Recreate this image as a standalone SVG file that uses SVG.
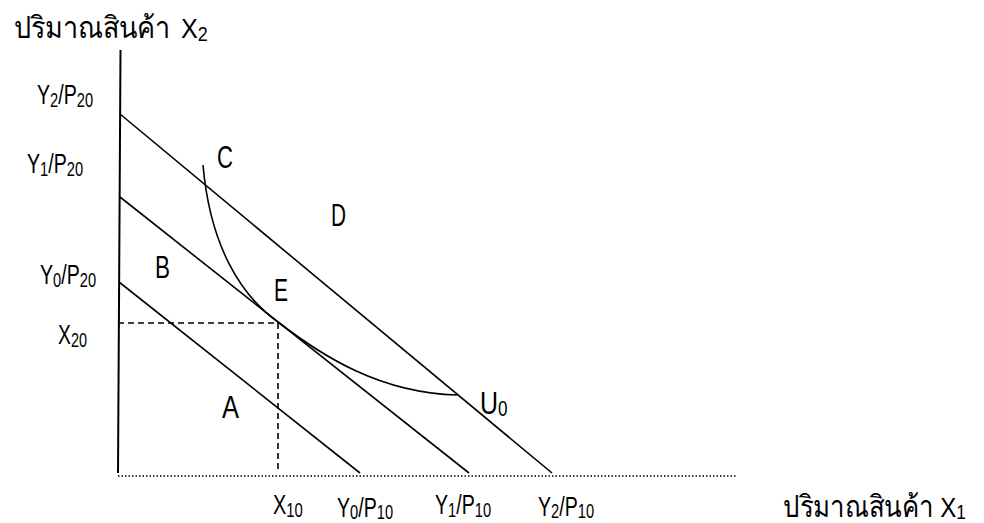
<svg xmlns="http://www.w3.org/2000/svg" width="984" height="523" viewBox="0 0 984 523">
<style>
.t{font-family:"Liberation Sans","DejaVu Sans","Noto Sans",sans-serif;fill:#000;}
.lab{font-size:28px;}
.sub{font-size:21px;}
.big{font-size:32px;}
.th{font-size:30px;}
.ln{stroke:#000;stroke-width:1.6;fill:none;}
.ax{stroke:#000;stroke-width:2;fill:none;}
.dash{stroke:#000;stroke-width:1.6;stroke-dasharray:6,4;fill:none;}
.dot{stroke:#000;stroke-width:1.5;stroke-dasharray:1.5,2;fill:none;}
</style>
<rect width="984" height="523" fill="#fff"/>
<g id="connectors">
  <line class="ax" x1="120.5" y1="50" x2="118" y2="473"/>
  <line class="dot" x1="118" y1="476" x2="736" y2="476"/>
  <line class="ln" x1="120" y1="114" x2="552" y2="473"/>
  <line class="ln" x1="120" y1="197" x2="469" y2="473"/>
  <line class="ln" x1="119" y1="282" x2="360" y2="473"/>
  <polyline class="dash" points="118,323 278,323 278,473"/>
  <path class="ln" d="M203,165 C210,245 240,295 278,322 C322,356 380,393 457,395"/>
</g>
<g id="axis-x2-title">
  <text class="t th" transform="translate(14,38) scale(0.9,1)">ปริมาณสินค้า<tspan font-size="28" dx="12">X</tspan><tspan font-size="20" dy="3">2</tspan></text>
</g>
<g id="axis-x1-title">
  <text class="t th" transform="translate(783,517) scale(0.86,1)">ปริมาณสินค้า<tspan font-size="28" dx="7">X</tspan><tspan font-size="20" dy="2">1</tspan></text>
</g>
<g id="label-Y2P20"><text class="t lab" transform="translate(37,104) scale(0.7,1)">Y<tspan class="sub" dy="3">2</tspan><tspan dy="-3">/P</tspan><tspan class="sub" dy="3">20</tspan></text></g>
<g id="label-Y1P20"><text class="t lab" transform="translate(27,173) scale(0.7,1)">Y<tspan class="sub" dy="3">1</tspan><tspan dy="-3">/P</tspan><tspan class="sub" dy="3">20</tspan></text></g>
<g id="label-Y0P20"><text class="t lab" transform="translate(40,284) scale(0.7,1)">Y<tspan class="sub" dy="3">0</tspan><tspan dy="-3">/P</tspan><tspan class="sub" dy="3">20</tspan></text></g>
<g id="label-X20"><text class="t lab" transform="translate(58,344) scale(0.69,1)">X<tspan class="sub" dy="3">20</tspan></text></g>
<g id="label-X10"><text class="t lab" transform="translate(273,514) scale(0.71,1)">X<tspan class="sub" dy="3">10</tspan></text></g>
<g id="label-Y0P10"><text class="t lab" transform="translate(337,517) scale(0.7,1)">Y<tspan class="sub" dy="2">0</tspan><tspan dy="-2">/P</tspan><tspan class="sub" dy="2">10</tspan></text></g>
<g id="label-Y1P10"><text class="t lab" transform="translate(435,514) scale(0.7,1)">Y<tspan class="sub" dy="3">1</tspan><tspan dy="-3">/P</tspan><tspan class="sub" dy="3">10</tspan></text></g>
<g id="label-Y2P10"><text class="t lab" transform="translate(538,516) scale(0.7,1)">Y<tspan class="sub" dy="2">2</tspan><tspan dy="-2">/P</tspan><tspan class="sub" dy="2">10</tspan></text></g>
<g id="label-C"><text class="t big" x="217" y="168" textLength="16" lengthAdjust="spacingAndGlyphs">C</text></g>
<g id="label-D"><text class="t big" x="331" y="226" textLength="15" lengthAdjust="spacingAndGlyphs">D</text></g>
<g id="label-B"><text class="t big" x="155" y="278" textLength="15" lengthAdjust="spacingAndGlyphs">B</text></g>
<g id="label-E"><text class="t big" x="274" y="301" textLength="14" lengthAdjust="spacingAndGlyphs">E</text></g>
<g id="label-A"><text class="t big" x="222" y="418" textLength="17" lengthAdjust="spacingAndGlyphs">A</text></g>
<g id="label-U0"><text class="t big" transform="translate(480,414) scale(0.78,1)">U<tspan font-size="22" dy="2">0</tspan></text></g>
</svg>
